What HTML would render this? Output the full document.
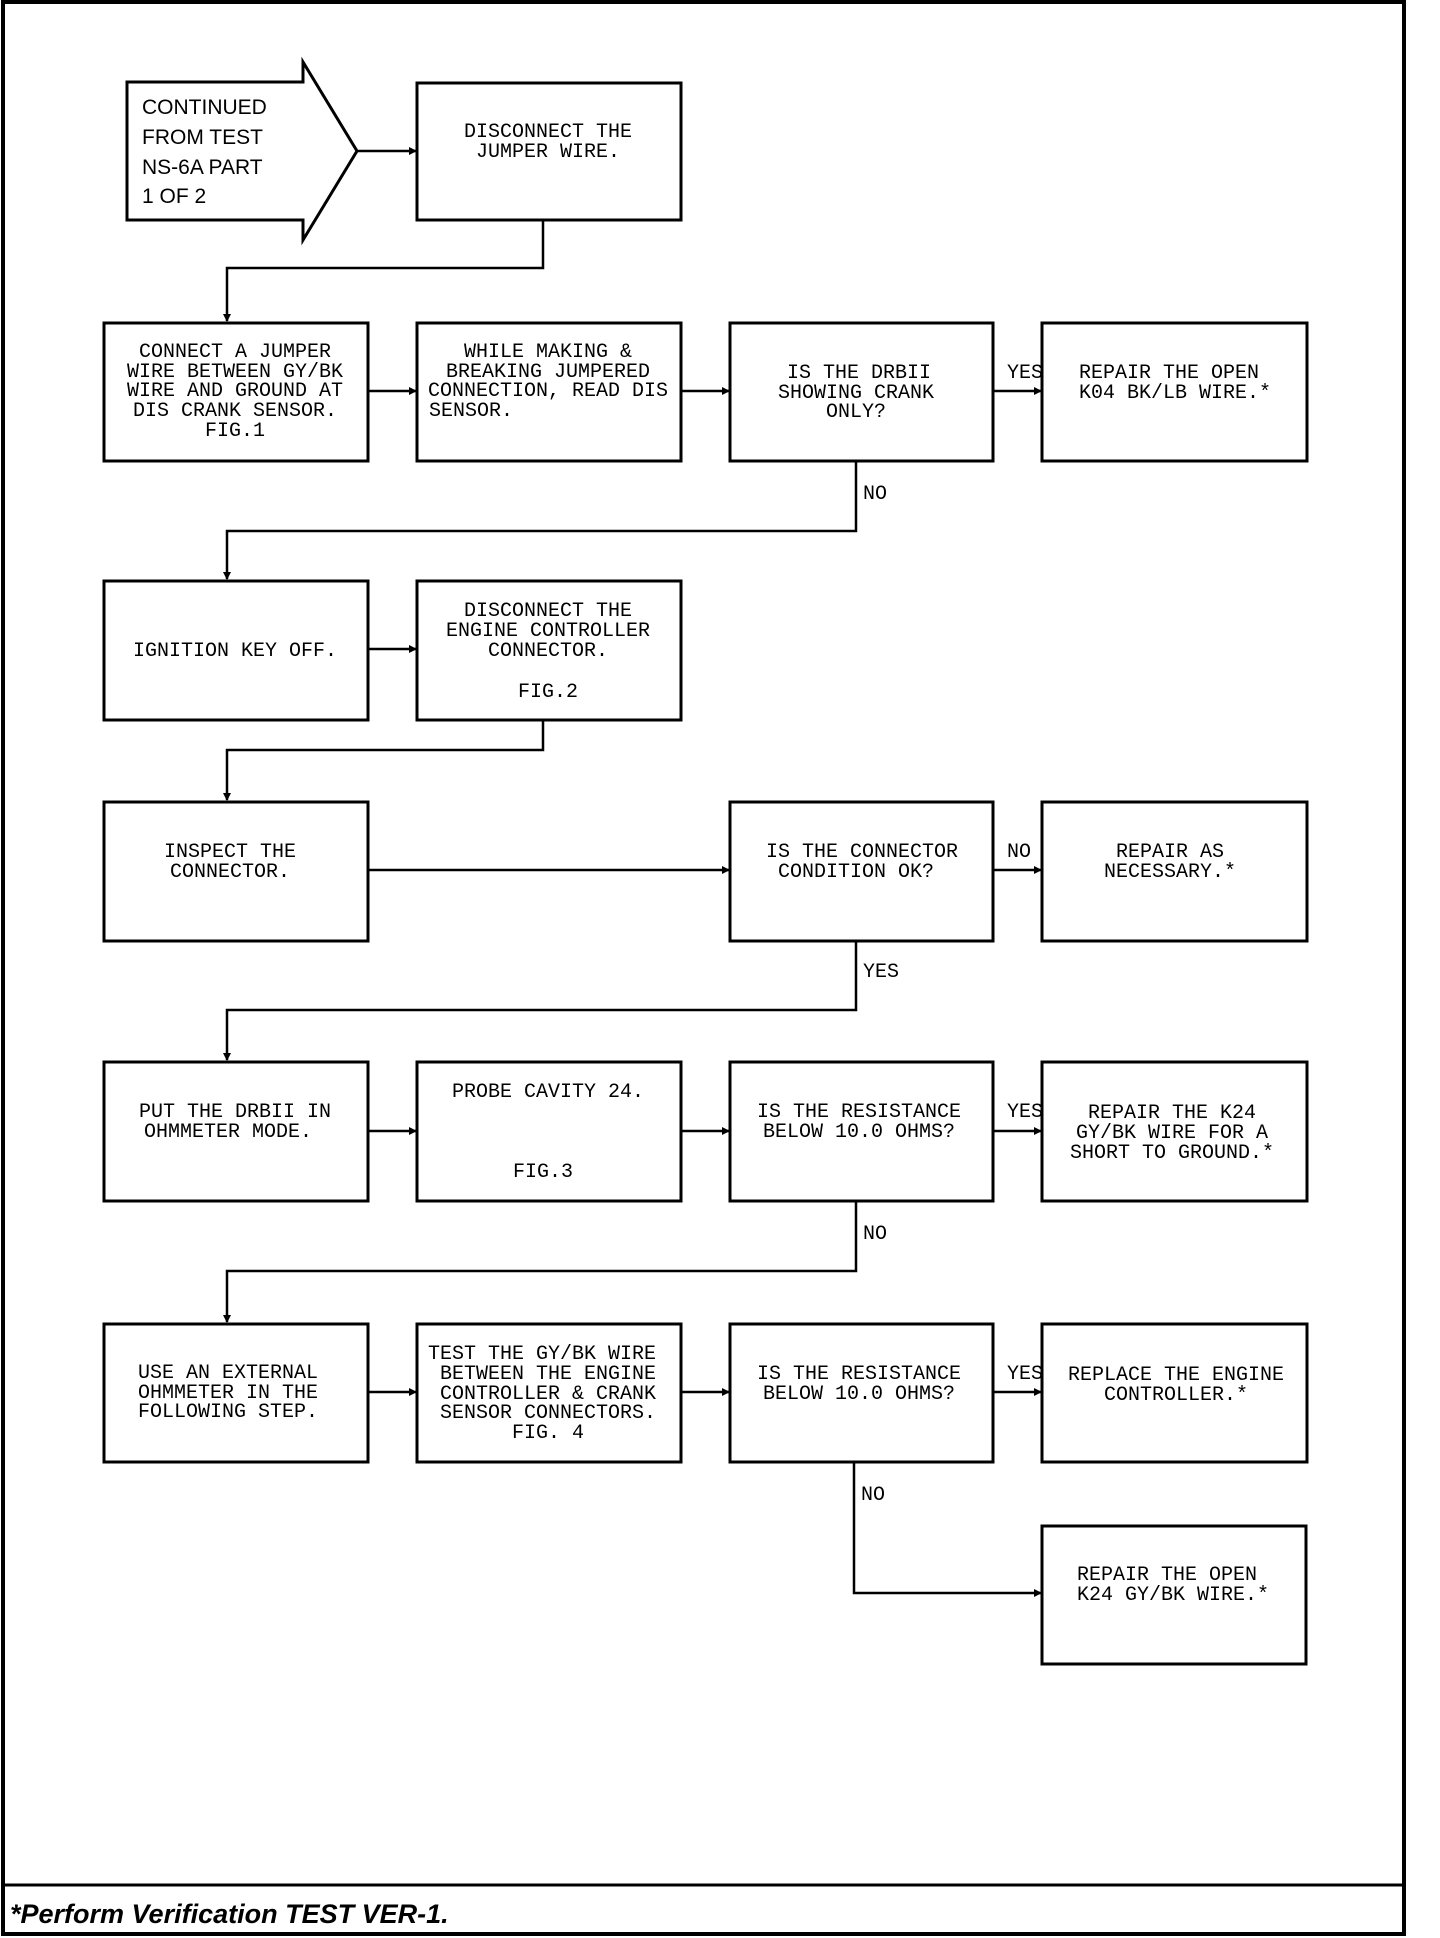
<!DOCTYPE html>
<html><head><meta charset="utf-8"><style>
html,body{margin:0;padding:0;background:#fff;}
svg{display:block;}
.t{font-family:"Liberation Mono",monospace;font-size:20px;fill:#000;}
.c{text-anchor:middle;}
.s{font-family:"Liberation Sans",sans-serif;font-size:21px;fill:#000;}
</style></head><body>
<svg width="1440" height="1938" viewBox="0 0 1440 1938" xmlns="http://www.w3.org/2000/svg">
<defs><marker id="a" markerWidth="8" markerHeight="8" refX="7" refY="4" orient="auto" markerUnits="userSpaceOnUse"><path d="M0,0 L8,4 L0,8 z" fill="#000"/></marker></defs>
<g fill="none" stroke="#000">
<rect x="3" y="2" width="1401" height="1932" stroke-width="4"/>
<line x1="3" y1="1885" x2="1404" y2="1885" stroke-width="3"/>
<path d="M303,82 H127 V220 H303 V240 L357,151 L303,62 Z" stroke-width="3"/>
<g stroke-width="3">
<rect x="417" y="83" width="264" height="137"/>
<rect x="104" y="323" width="264" height="138"/>
<rect x="417" y="323" width="264" height="138"/>
<rect x="730" y="323" width="263" height="138"/>
<rect x="1042" y="323" width="265" height="138"/>
<rect x="104" y="581" width="264" height="139"/>
<rect x="417" y="581" width="264" height="139"/>
<rect x="104" y="802" width="264" height="139"/>
<rect x="730" y="802" width="263" height="139"/>
<rect x="1042" y="802" width="265" height="139"/>
<rect x="104" y="1062" width="264" height="139"/>
<rect x="417" y="1062" width="264" height="139"/>
<rect x="730" y="1062" width="263" height="139"/>
<rect x="1042" y="1062" width="265" height="139"/>
<rect x="104" y="1324" width="264" height="138"/>
<rect x="417" y="1324" width="264" height="138"/>
<rect x="730" y="1324" width="263" height="138"/>
<rect x="1042" y="1324" width="265" height="138"/>
<rect x="1042" y="1526" width="264" height="138"/>
</g>
<g stroke-width="2.5" marker-end="url(#a)">
<line x1="357" y1="151" x2="416" y2="151"/>
<polyline points="543,220 543,268 227,268 227,321"/>
<line x1="368" y1="391" x2="416" y2="391"/>
<line x1="681" y1="391" x2="729" y2="391"/>
<line x1="993" y1="391" x2="1041" y2="391"/>
<polyline points="856,461 856,531 227,531 227,579"/>
<line x1="368" y1="649" x2="416" y2="649"/>
<polyline points="543,720 543,750 227,750 227,800"/>
<line x1="368" y1="870" x2="729" y2="870"/>
<line x1="993" y1="870" x2="1041" y2="870"/>
<polyline points="856,941 856,1010 227,1010 227,1060"/>
<line x1="368" y1="1131" x2="416" y2="1131"/>
<line x1="681" y1="1131" x2="729" y2="1131"/>
<line x1="993" y1="1131" x2="1041" y2="1131"/>
<polyline points="856,1201 856,1271 227,1271 227,1322"/>
<line x1="368" y1="1392" x2="416" y2="1392"/>
<line x1="681" y1="1392" x2="729" y2="1392"/>
<line x1="993" y1="1392" x2="1041" y2="1392"/>
<polyline points="854,1462 854,1593 1041,1593"/>
</g>
</g>
<text class="s" x="142" y="114">CONTINUED</text>
<text class="s" x="142" y="144">FROM TEST</text>
<text class="s" x="142" y="174">NS-6A PART</text>
<text class="s" x="142" y="203">1 OF 2</text>

<g class="t">
<text class="c" x="548" y="137">DISCONNECT THE</text>
<text class="c" x="548" y="157">JUMPER WIRE.</text>

<text class="c" x="235" y="357">CONNECT A JUMPER</text>
<text class="c" x="235" y="377">WIRE BETWEEN GY/BK</text>
<text class="c" x="235" y="396">WIRE AND GROUND AT</text>
<text class="c" x="235" y="416">DIS CRANK SENSOR.</text>
<text class="c" x="235" y="436">FIG.1</text>

<text class="c" x="548" y="357">WHILE MAKING &amp;</text>
<text class="c" x="548" y="377">BREAKING JUMPERED</text>
<text class="c" x="548" y="396">CONNECTION, READ DIS</text>
<text x="429" y="416">SENSOR.</text>

<text class="c" x="859" y="378">IS THE DRBII</text>
<text class="c" x="856" y="398">SHOWING CRANK</text>
<text class="c" x="856" y="417">ONLY?</text>
<text x="1007" y="378">YES</text>
<text x="1079" y="378">REPAIR THE OPEN</text>
<text x="1079" y="398">K04 BK/LB WIRE.*</text>
<text x="863" y="499">NO</text>

<text class="c" x="235" y="656">IGNITION KEY OFF.</text>
<text class="c" x="548" y="616">DISCONNECT THE</text>
<text class="c" x="548" y="636">ENGINE CONTROLLER</text>
<text class="c" x="548" y="656">CONNECTOR.</text>
<text class="c" x="548" y="697">FIG.2</text>

<text class="c" x="230" y="857">INSPECT THE</text>
<text class="c" x="230" y="877">CONNECTOR.</text>
<text class="c" x="862" y="857">IS THE CONNECTOR</text>
<text class="c" x="856" y="877">CONDITION OK?</text>
<text x="1007" y="857">NO</text>
<text class="c" x="1170" y="857">REPAIR AS</text>
<text class="c" x="1170" y="877">NECESSARY.*</text>
<text x="863" y="977">YES</text>

<text class="c" x="235" y="1117">PUT THE DRBII IN</text>
<text class="c" x="228" y="1137">OHMMETER MODE.</text>
<text class="c" x="548" y="1097">PROBE CAVITY 24.</text>
<text class="c" x="543" y="1177">FIG.3</text>
<text class="c" x="859" y="1117">IS THE RESISTANCE</text>
<text class="c" x="859" y="1137">BELOW 10.0 OHMS?</text>
<text x="1007" y="1117">YES</text>
<text class="c" x="1172" y="1118">REPAIR THE K24</text>
<text class="c" x="1172" y="1138">GY/BK WIRE FOR A</text>
<text class="c" x="1172" y="1158">SHORT TO GROUND.*</text>
<text x="863" y="1239">NO</text>

<text x="138" y="1378">USE AN EXTERNAL</text>
<text x="138" y="1398">OHMMETER IN THE</text>
<text x="138" y="1417">FOLLOWING STEP.</text>
<text class="c" x="542" y="1359">TEST THE GY/BK WIRE</text>
<text class="c" x="548" y="1379">BETWEEN THE ENGINE</text>
<text class="c" x="548" y="1399">CONTROLLER &amp; CRANK</text>
<text class="c" x="548" y="1418">SENSOR CONNECTORS.</text>
<text class="c" x="548" y="1438">FIG. 4</text>
<text class="c" x="859" y="1379">IS THE RESISTANCE</text>
<text class="c" x="859" y="1399">BELOW 10.0 OHMS?</text>
<text x="1007" y="1379">YES</text>
<text class="c" x="1176" y="1380">REPLACE THE ENGINE</text>
<text class="c" x="1176" y="1400">CONTROLLER.*</text>
<text x="861" y="1500">NO</text>

<text x="1077" y="1580">REPAIR THE OPEN</text>
<text x="1077" y="1600">K24 GY/BK WIRE.*</text>
</g>
<text x="10" y="1923" style="font-family:'Liberation Sans',sans-serif;font-size:27px;font-weight:bold;font-style:italic;">*Perform Verification TEST VER-1.</text>
</svg>
</body></html>
